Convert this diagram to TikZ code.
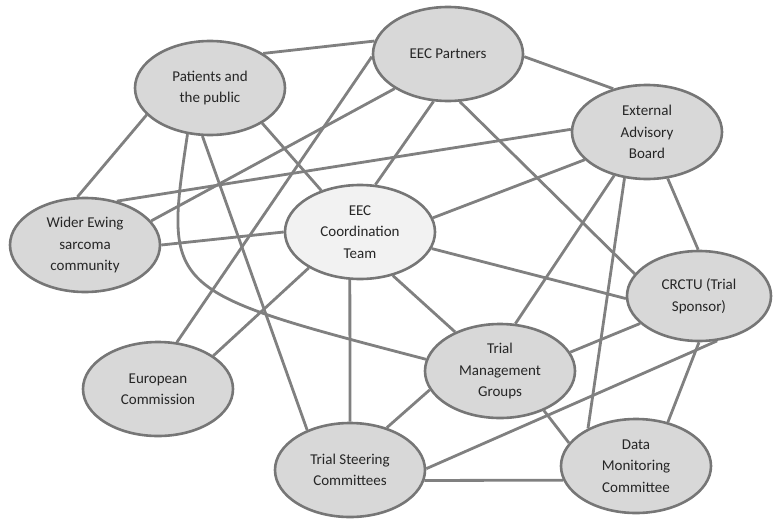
\documentclass[tikz,border=0pt]{standalone}
\usepackage{fontspec}
\setmainfont{Carlito}
\usepackage{xcolor}
\definecolor{linegray}{RGB}{128,128,128}
\definecolor{ringgray}{RGB}{118,118,118}
\definecolor{bubble}{RGB}{216,216,216}
\definecolor{bubblelight}{RGB}{242,242,242}
\usepackage{tikz}
\usetikzlibrary{shapes.geometric,backgrounds}

\begin{document}
\begin{tikzpicture}[x=1pt, y=-1pt, font=\fontsize{15}{21.5}\selectfont,
  party/.style={ellipse, draw=ringgray, line width=2.6pt, fill=bubble, minimum width=150pt, minimum height=94pt, inner sep=0pt, align=center, text=black!85},
  link/.style={linegray, line width=2.8pt}]
\useasboundingbox (0,0) rectangle (773,519);
\node[party] (pat) at (210,88) {Patients and\\the public};
\node[party] (par) at (448,54) {EEC Partners};
\node[party] (ext) at (647,132) {External\\Advisory\\Board};
\node[party] (wid) at (85,245) {Wider Ewing\\sarcoma\\community};
\node[party, fill=bubblelight] (coo) at (360,232) {EEC\\Coordination\\Team};
\node[party, minimum width=144pt, minimum height=90pt] (crc) at (699,296) {CRCTU (Trial\\Sponsor)};
\node[party] (eur) at (158,389) {European\\Commission};
\node[party] (tmg) at (500,371) {Trial\\Management\\Groups};
\node[party] (tsc) at (350,470) {Trial Steering\\Committees};
\node[party] (dmc) at (636,466) {Data\\Monitoring\\Committee};
\begin{scope}[on background layer]
\draw[link] (pat.33) -- (par.170);
\draw[link] (pat.203) -- (wid.99);
\draw[link] (pat.326) -- (coo.133);
\draw[link] (pat.261) -- (tsc.137);
\draw[link] (pat.244) .. controls (164,291) .. (tmg.171);
\draw[link] (par.213) -- (wid.20);
\draw[link] (par.182) -- (eur.68);
\draw[link] (par.253) -- (coo.72);
\draw[link] (par.284) -- (crc.161);
\draw[link] (par.358) -- (ext.128);
\draw[link] (ext.178) -- (wid.54);
\draw[link] (ext.204) -- (coo.11);
\draw[link] (ext.233) -- (tmg.72);
\draw[link] (ext.244) -- (dmc.142);
\draw[link] (ext.294) -- (crc.91);
\draw[link] (wid.0) -- (coo.180);
\draw[link] (coo.347) -- (crc.182);
\draw[link] (coo.307) -- (tmg.139);
\draw[link] (coo.258) -- (tsc.90);
\draw[link] (coo.215) -- (eur.31);
\draw[link] (tmg.15) -- (crc.205);
\draw[link] (tmg.195) -- (tsc.49);
\draw[link] (tmg.318) -- (dmc.161);
\draw[link] (tsc.352) -- (dmc.191);
\draw[link] (tsc.1) -- (crc.292);
\draw[link] (crc.270) -- (dmc.54);
\end{scope}
\end{tikzpicture}
\end{document}
